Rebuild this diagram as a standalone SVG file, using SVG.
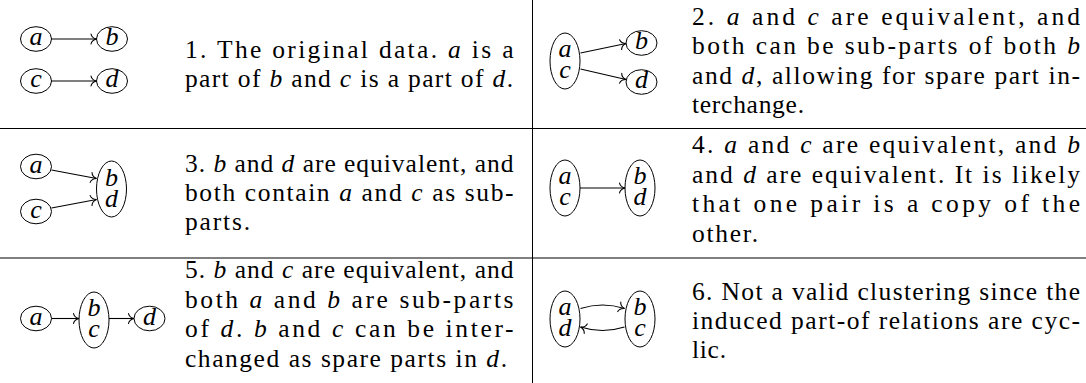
<svg xmlns="http://www.w3.org/2000/svg" width="1086" height="383" viewBox="0 0 1086 383">
<style>
.nd{fill:none;stroke:#000;stroke-width:1}
.lbl{font-family:'Liberation Serif',serif;font-style:italic;font-size:26px;text-anchor:middle;fill:#000}
.txt{font-family:'Liberation Serif',serif;font-size:25.5px;fill:#000}
.mi{font-style:italic}
.ed{fill:none;stroke:#000;stroke-width:1.1;marker-end:url(#arr)}
.ru{stroke:#000;stroke-width:1}
</style>
<defs>
<marker id="arr" viewBox="-7 -6 8 12" refX="0" refY="0" markerWidth="8" markerHeight="12" markerUnits="userSpaceOnUse" orient="auto" overflow="visible">
<path d="M-5.5,-5 C-5,-2.5 -2.5,-0.6 0,0 C-2.5,0.6 -5,2.5 -5.5,5" fill="none" stroke="#000" stroke-width="1.1" stroke-linecap="round"/>
</marker>
</defs>
<g id="rules">
<line class="ru" x1="0" y1="128.5" x2="1086" y2="128.5"/>
<line class="ru" x1="0" y1="258" x2="1086" y2="258"/>
<line class="ru" x1="532.5" y1="0" x2="532.5" y2="383"/>
</g>
<g id="c1-a"><ellipse class="nd" cx="36" cy="39" rx="15.5" ry="12.3"/><text class="lbl" x="36" y="45">a</text></g>
<g id="c1-b"><ellipse class="nd" cx="112" cy="39" rx="15.5" ry="12.3"/><text class="lbl" x="112" y="45">b</text></g>
<g id="c1-c"><ellipse class="nd" cx="36" cy="81" rx="15.5" ry="12.3"/><text class="lbl" x="36" y="87">c</text></g>
<g id="c1-d"><ellipse class="nd" cx="112" cy="81" rx="15.5" ry="12.3"/><text class="lbl" x="112" y="87">d</text></g>
<g id="c2-ac"><ellipse class="nd" cx="565" cy="61" rx="15" ry="28"/><text class="lbl" x="565" y="57">a<tspan x="565" dy="21">c</tspan></text></g>
<g id="c2-b"><ellipse class="nd" cx="641.5" cy="43" rx="15.5" ry="12.3"/><text class="lbl" x="641.5" y="49">b</text></g>
<g id="c2-d"><ellipse class="nd" cx="641.5" cy="82" rx="15.5" ry="12.3"/><text class="lbl" x="641.5" y="88">d</text></g>
<g id="c3-a"><ellipse class="nd" cx="36" cy="166.5" rx="15.5" ry="12.3"/><text class="lbl" x="36" y="172.5">a</text></g>
<g id="c3-c"><ellipse class="nd" cx="36" cy="211.5" rx="15.5" ry="12.3"/><text class="lbl" x="36" y="217.5">c</text></g>
<g id="c3-bd"><ellipse class="nd" cx="111.5" cy="189" rx="15" ry="28"/><text class="lbl" x="111.5" y="186">b<tspan x="111.5" dy="21">d</tspan></text></g>
<g id="c4-ac"><ellipse class="nd" cx="565" cy="188" rx="15" ry="28"/><text class="lbl" x="565" y="184">a<tspan x="565" dy="21">c</tspan></text></g>
<g id="c4-bd"><ellipse class="nd" cx="640" cy="188" rx="15" ry="28"/><text class="lbl" x="640" y="184">b<tspan x="640" dy="21">d</tspan></text></g>
<g id="c5-a"><ellipse class="nd" cx="36" cy="318.5" rx="15.5" ry="12.3"/><text class="lbl" x="36" y="324.5">a</text></g>
<g id="c5-bc"><ellipse class="nd" cx="94" cy="320" rx="15" ry="28"/><text class="lbl" x="94" y="316">b<tspan x="94" dy="21">c</tspan></text></g>
<g id="c5-d"><ellipse class="nd" cx="149.5" cy="318.5" rx="15.5" ry="12.3"/><text class="lbl" x="149.5" y="324.5">d</text></g>
<g id="c6-ad"><ellipse class="nd" cx="565" cy="319" rx="15" ry="28"/><text class="lbl" x="565" y="315">a<tspan x="565" dy="21">d</tspan></text></g>
<g id="c6-bc"><ellipse class="nd" cx="640" cy="319" rx="15" ry="28"/><text class="lbl" x="640" y="315">b<tspan x="640" dy="21">c</tspan></text></g>
<g id="connectors">
<path class="ed" d="M51.5,39 L96.5,39"/>
<path class="ed" d="M51.5,81 L96.5,81"/>
<path class="ed" d="M580.5,53 L626,43.5"/>
<path class="ed" d="M580.5,69 L626,79.5"/>
<path class="ed" d="M51.5,170 L96.5,178.5"/>
<path class="ed" d="M51.5,208 L96.5,199.5"/>
<path class="ed" d="M580,188 L625,188"/>
<path class="ed" d="M51.5,318.5 L79,318.5"/>
<path class="ed" d="M109,318.5 L134,318.5"/>
<path class="ed" d="M580.5,308.5 Q602.5,301.5 624.5,308.5"/>
<path class="ed" d="M624.5,327 Q602.5,334 580.5,327"/>
</g>
<g id="texts">
<text class="txt" x="185" y="58" textLength="328.5" lengthAdjust="spacing">1. The original data. <tspan class="mi">a</tspan> is a</text>
<text class="txt" x="185" y="87" textLength="328" lengthAdjust="spacing">part of <tspan class="mi">b</tspan> and <tspan class="mi">c</tspan> is a part of <tspan class="mi">d</tspan>.</text>
<text class="txt" x="692" y="25" textLength="388" lengthAdjust="spacing">2. <tspan class="mi">a</tspan> and <tspan class="mi">c</tspan> are equivalent, and</text>
<text class="txt" x="692" y="54.3" textLength="388" lengthAdjust="spacing">both can be sub-parts of both <tspan class="mi">b</tspan></text>
<text class="txt" x="692" y="83.6" textLength="388" lengthAdjust="spacing">and <tspan class="mi">d</tspan>, allowing for spare part in-</text>
<text class="txt" x="692" y="113" textLength="112" lengthAdjust="spacing">terchange.</text>
<text class="txt" x="185" y="172" textLength="328.5" lengthAdjust="spacing">3. <tspan class="mi">b</tspan> and <tspan class="mi">d</tspan> are equivalent, and</text>
<text class="txt" x="185" y="201" textLength="328.5" lengthAdjust="spacing">both contain <tspan class="mi">a</tspan> and <tspan class="mi">c</tspan> as sub-</text>
<text class="txt" x="185" y="230" textLength="65" lengthAdjust="spacing">parts.</text>
<text class="txt" x="692" y="153" textLength="388" lengthAdjust="spacing">4. <tspan class="mi">a</tspan> and <tspan class="mi">c</tspan> are equivalent, and <tspan class="mi">b</tspan></text>
<text class="txt" x="692" y="182.5" textLength="388" lengthAdjust="spacing">and <tspan class="mi">d</tspan> are equivalent. It is likely</text>
<text class="txt" x="692" y="212" textLength="388" lengthAdjust="spacing">that one pair is a copy of the</text>
<text class="txt" x="692" y="241.5" textLength="66" lengthAdjust="spacing">other.</text>
<text class="txt" x="185" y="278" textLength="328.5" lengthAdjust="spacing">5. <tspan class="mi">b</tspan> and <tspan class="mi">c</tspan> are equivalent, and</text>
<text class="txt" x="185" y="307.5" textLength="328.5" lengthAdjust="spacing">both <tspan class="mi">a</tspan> and <tspan class="mi">b</tspan> are sub-parts</text>
<text class="txt" x="185" y="337" textLength="328.5" lengthAdjust="spacing">of <tspan class="mi">d</tspan>. <tspan class="mi">b</tspan> and <tspan class="mi">c</tspan> can be inter-</text>
<text class="txt" x="185" y="366.5" textLength="322" lengthAdjust="spacing">changed as spare parts in <tspan class="mi">d</tspan>.</text>
<text class="txt" x="692" y="300" textLength="388" lengthAdjust="spacing">6. Not a valid clustering since the</text>
<text class="txt" x="692" y="329" textLength="388" lengthAdjust="spacing">induced part-of relations are cyc-</text>
<text class="txt" x="692" y="358" textLength="34" lengthAdjust="spacing">lic.</text>
</g>
</svg>
